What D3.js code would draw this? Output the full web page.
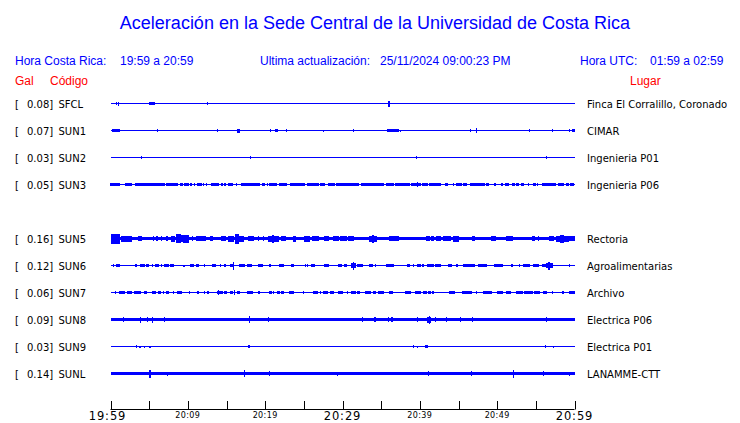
<!DOCTYPE html>
<html><head><meta charset="utf-8">
<script src="https://cdn.jsdelivr.net/npm/d3@7"></script>
<style>body{margin:0;background:#fff}svg{display:block}</style>
</head><body>
<svg id="c" width="740" height="423"></svg>
<script>
// ---------- data ----------
const titleText = "Aceleración en la Sede Central de la Universidad de Costa Rica";
const localRange = "19:59 a 20:59";
const utcRange = "01:59 a 02:59";
const updated = "25/11/2024 09:00:23 PM";

const codes  = ["SFCL","SUN1","SUN2","SUN3","SUN4","SUN5","SUN6","SUN7","SUN8","SUN9","SUNL"];
const gal    = [0.08, 0.07, 0.03, 0.05, null, 0.16, 0.12, 0.06, 0.09, 0.03, 0.14];
const places = ["Finca El Corralillo, Coronado","CIMAR","Ingenieria P01","Ingenieria P06",null,
                "Rectoria","Agroalimentarias","Archivo","Electrica P06","Electrica P01","LANAMME-CTT"];
// background (noise) amplitude per station, relative units
const baseAmp = [0.5, 0.5, 0.5, 0.5, null, 1.7, 0.5, 0.5, 1.9, 0.5, 1.5];

// bursts: [start minute, end minute, amplitude]
const burstsSFCL = [[0.8,0.8,1.5],[1.0,1.0,2],[5.1,5.6,1.5],[12.5,12.5,1.5],[36.0,36.0,3]];
const burstsSUN1 = [[0.2,0.8,1.5],[0.9,1.2,1.5],[6.1,6.1,1.5],[13.8,13.8,1.5],[16.4,16.6,2],[20.7,20.7,1.5],[21.3,21.6,1.5],[22.7,22.7,1.5],[27.5,27.5,1],[31.4,31.4,1.5],[33.6,33.6,0.8],[35.8,36.4,1.5],[36.6,37.2,1.5],[37.5,37.5,1],[39.7,39.7,0.8],[41.7,41.7,0.8],[46.5,46.5,1.5],[47.3,47.3,2.5],[48.1,48.1,0.8],[54.2,54.2,1.5],[57.1,57.1,1.5],[59.3,59.3,1.5],[59.7,60,1.5]];
const burstsSUN2 = [[4.0,4.0,1.5],[18.1,18.1,1.5],[20.5,20.5,0.8],[39.6,39.6,1.5],[56.4,56.4,1.5]];
const burstsSUN3 = [[0,1.1,1.7],[1.9,2.7,1.7],[3.2,4.2,1.7],[4.4,6.2,1.7],[6.4,7.0,1.7],[7.2,7.9,1.7],[8.0,8.7,1.7],[9.0,9.3,1.5],[9.6,10.0,1.5],[10.4,10.4,1.5],[10.9,10.9,1.5],[11.2,11.7,1.7],[12.0,12.0,1.5],[12.4,12.4,1.5],[13.1,13.9,1.7],[14.4,14.4,1.5],[14.8,14.8,1.5],[15.2,15.8,1.7],[16.3,16.3,1.5],[16.9,17.3,1.5],[17.4,19.2,1.7],[19.6,19.9,1.5],[20.3,20.3,1.5],[20.6,21.5,1.7],[21.8,22.7,1.7],[23.3,25.0,1.7],[25.5,26.9,1.7],[27.1,27.7,1.7],[28.2,28.9,1.7],[29.2,32.0,1.7],[32.4,34.0,1.7],[34.2,34.8,1.7],[34.9,35.3,1.5],[35.7,36.6,1.7],[36.8,37.7,1.7],[37.9,38.7,1.7],[38.9,40.0,1.7],[39.7,39.7,2.2],[40.4,41.0,1.7],[41.2,42.6,1.7],[43.3,43.6,1.5],[44.3,44.3,1.5],[44.8,45.3,1.5],[45.6,46.0,1.5],[46.5,46.9,1.7],[47.1,48.3,1.7],[48.6,48.9,1.5],[49.6,49.8,1.5],[50.6,50.6,1.2],[51.1,51.2,1.5],[51.4,51.4,1.2],[52.0,52.2,1.5],[52.5,52.7,1.5],[53.2,53.4,1.5],[54.0,54.0,1.5],[54.7,54.9,1.5],[55.2,55.2,1.5],[55.9,57.5,1.7],[57.9,58.6,1.7],[59.0,59.2,1.5],[59.5,59.9,1.7]];
const burstsSUN5 = [[0.1,1.1,5],[1.4,2.7,3],[3.6,4.0,2.5],[5.5,5.5,2.5],[6.0,6.0,2.2],[6.6,6.6,2.2],[7.3,7.3,2.2],[7.9,8.3,3],[8.5,9.0,4.5],[9.0,9.4,3.5],[9.5,10.1,4],[10.6,10.6,2.5],[11.1,12.2,2.5],[12.9,13.2,2.5],[14.4,14.8,2.5],[15.2,15.9,3],[16.1,16.5,5],[16.7,17.2,3],[17.8,18.5,2.5],[19.1,19.1,2.2],[19.8,19.8,2.2],[20.4,21.7,3],[20.9,21.1,4],[22.1,22.6,2.5],[23.6,23.9,3],[25.1,25.7,3],[26.1,26.9,2.5],[27.7,28.2,2.2],[28.8,29.5,2.2],[29.7,30.5,2.5],[30.8,31.4,2.5],[33.5,34.4,3],[33.9,34.0,4],[36.1,37.2,2.5],[40.8,41.2,2.5],[41.5,41.7,2.5],[42.2,42.7,2.5],[43.1,43.9,2.5],[44.3,45.0,3],[46.8,47.1,2.5],[49.3,49.7,2.5],[51.2,51.9,2.5],[54.6,54.8,2.5],[55.3,55.3,2.2],[56.8,57.3,2.5],[57.7,59.2,3],[58.2,58.6,4],[59.2,60,2.2]];
const burstsSUN6 = [[0.4,0.4,1.5],[0.8,1.1,1.5],[3.2,3.4,1.5],[3.9,4.2,1.5],[4.4,4.4,1.5],[4.7,4.9,1.5],[5.4,5.4,1.5],[5.8,6.2,1.5],[6.6,6.6,1.5],[7.0,7.5,1.5],[7.8,8.1,1.5],[9.5,9.5,1],[10.3,10.7,1.5],[11.1,11.4,1.5],[12.1,12.1,1.5],[13.2,13.5,1.5],[14.2,14.2,1.5],[14.8,14.8,1.5],[15.5,15.7,1.5],[15.9,15.9,4],[16.7,17.3,1.5],[17.7,18.2,1.5],[19.1,19.6,1.5],[20.6,20.6,1.5],[21.9,22.3,1.5],[23.4,23.7,1.5],[25.2,25.2,1.5],[25.5,25.5,1.5],[26.0,26.4,1.5],[27.7,28.1,1.5],[29.5,29.8,1.5],[30.3,30.5,1.5],[31.2,31.6,2.5],[31.4,31.4,4],[31.9,32.6,1.5],[33.5,33.9,1.5],[34.3,34.3,1.5],[35.7,36.4,1.5],[36.6,36.6,1.5],[38.4,38.7,1.5],[39.2,39.2,1.5],[39.7,40.0,1.5],[40.4,40.4,1.5],[41.0,41.7,1.5],[42.0,42.6,1.5],[43.7,44.1,1.5],[44.8,44.8,1.5],[45.6,46.1,1.5],[46.3,47.1,1.5],[47.6,48.6,1.5],[49.7,50.6,1.5],[51.9,51.9,1.5],[52.9,52.9,1.5],[53.4,54.2,1.5],[54.7,55.3,1.5],[55.8,56.2,1.5],[56.4,57.1,2.5],[56.7,56.8,4],[59.3,59.3,1.5]];
const burstsSUN7 = [[0.6,0.6,1.2],[1.1,1.8,1.5],[2.2,2.7,1.5],[3.1,3.3,1.5],[3.4,3.9,1.5],[4.4,4.6,1.5],[5.4,5.8,1.5],[6.2,6.5,1.5],[6.8,6.8,1.2],[7.3,7.5,1.5],[8.1,8.1,1.5],[8.6,9.2,1.5],[10.2,10.2,1.5],[11.3,11.4,1.5],[12.1,12.1,1.5],[12.6,12.6,1.5],[13.8,14.4,1.7],[14.0,14.0,2.5],[14.8,15.0,1.5],[15.5,15.7,1.5],[16.0,16.0,2.5],[16.4,16.7,1.5],[17.7,18.3,1.5],[19.2,19.2,1.5],[20.5,20.8,1.5],[21.1,21.1,1.5],[21.6,21.8,1.5],[22.1,22.3,1.5],[23.2,23.6,1.5],[24.9,24.9,1.5],[26.2,26.8,1.5],[27.1,27.1,1.5],[27.6,28.0,1.5],[28.4,28.8,1.5],[29.5,30.0,1.5],[30.6,30.6,1.2],[31.2,31.6,1.5],[31.9,32.2,1.5],[33.0,33.6,1.5],[34.0,34.3,1.5],[34.6,35.3,1.5],[36.1,36.5,1.5],[38.1,38.8,1.5],[39.5,40.1,1.5],[40.5,40.8,1.5],[41.1,41.3,1.5],[41.7,41.7,1.2],[43.9,44.5,1.5],[45.5,46.7,1.5],[47.3,47.3,1.5],[48.2,49.3,1.5],[50.1,50.6,1.5],[51.2,51.7,1.5],[52.5,53.2,1.5],[53.5,54.6,1.5],[54.8,55.5,1.5],[56.0,56.3,1.5],[57.1,57.1,1.5],[58.5,58.5,1.2],[59.4,60,1.5]];
const burstsSUN8 = [[1.7,1.7,2.5],[3.9,3.9,3],[4.8,4.8,2.5],[5.4,5.4,3],[7.0,7.0,2.5],[18.0,18.0,3.5],[20.4,20.4,2.5],[32.6,32.6,2.5],[34.2,34.2,2.5],[35.9,35.9,2.5],[36.4,36.4,2.2],[39.7,39.7,2.5],[41.0,41.4,3],[41.2,41.2,4],[42.0,42.0,2.5],[43.4,43.4,2.2],[45.2,45.2,2.5],[46.8,46.8,2.5],[56.4,56.4,2.5]];
const burstsSUN9 = [[3.4,3.4,1.5],[3.8,3.8,1],[4.4,4.4,1],[5.1,5.1,1],[17.8,18.0,1.5],[39.2,39.2,1.5],[39.7,39.7,1],[40.7,41.0,1.5],[56.2,56.2,1.5],[57.3,57.3,1]];
const burstsSUNL = [[5.1,5.1,4],[7.4,7.4,2],[17.3,17.3,3.5],[20.5,20.5,2.5],[29.3,29.3,2],[41.1,41.1,2.5],[46.7,46.7,2.5],[52.1,52.1,4],[56.0,56.0,2.5],[59.3,59.3,2]];
const burstLists = [burstsSFCL,burstsSUN1,burstsSUN2,burstsSUN3,null,burstsSUN5,burstsSUN6,burstsSUN7,burstsSUN8,burstsSUN9,burstsSUNL];

const tickMinutes = [0,5,10,15,20,25,30,35,40,45,50,55,60];
const tickLabels  = ["19:59","","20:09","","20:19","","20:29","","20:39","","20:49","","20:59"];
const majorTicks  = ["19:59","20:29","20:59"];

// ---------- drawing ----------
const svg = d3.select("#c");
const BLUE = "#0000ff", RED = "#ff0000";

const x = d3.scaleLinear().domain([0, 60]).range([110.5, 574.5]);
const y = d3.scaleLinear().domain([0, codes.length - 1]).range([103.5, 373.5]);
const amp = d3.scaleLinear().domain([0, 1]).range([0, 1]);

// header
svg.append("text").attr("x", 375).attr("y", 29).attr("text-anchor", "middle")
  .attr("font-family", "Liberation Sans, Arial, sans-serif").attr("font-size", 18)
  .attr("fill", BLUE).text(titleText);

const hdr = (t, xx, yy, col) => svg.append("text").attr("x", xx).attr("y", yy)
  .attr("font-family", "Liberation Sans, Arial, sans-serif").attr("font-size", 12)
  .attr("fill", col).text(t);
hdr("Hora Costa Rica:", 15, 65, BLUE);
hdr(localRange, 120, 65, BLUE);
hdr("Ultima actualización:", 260, 65, BLUE);
hdr(updated, 380, 65, BLUE);
hdr("Hora UTC:", 580, 65, BLUE);
hdr(utcRange, 650, 65, BLUE);
hdr("Gal", 15, 85, RED);
hdr("Código", 50, 85, RED);
hdr("Lugar", 630, 85, RED);

// rows
const rows = svg.append("g");
codes.forEach((code, i) => {
  if (gal[i] == null) return;
  const cy = y(i);
  const g = rows.append("g");
  const lab = (t, xx) => g.append("text").attr("x", xx).attr("y", cy + 4)
    .attr("font-family", "DejaVu Sans, sans-serif").attr("font-size", 10)
    .attr("fill", "#000").text(t);
  lab("[", 15);
  lab(d3.format(".2f")(gal[i]) + "]", 27);
  lab(code, 58.5);
  lab(places[i], 587);

  const b = amp(baseAmp[i]);
  g.append("rect").attr("x", x(0)).attr("width", x(60) - x(0))
    .attr("y", cy - Math.max(b, 0.5)).attr("height", Math.max(2 * b, 1))
    .attr("fill", BLUE).attr("shape-rendering", "crispEdges");
  g.selectAll(".b").data(burstLists[i]).join("rect")
    .attr("x", d => x(d[0]) - 0.5)
    .attr("width", d => Math.max(x(d[1]) - x(d[0]), 0) + 1.2)
    .attr("y", d => cy - amp(d[2]))
    .attr("height", d => 2 * amp(d[2]))
    .attr("fill", BLUE).attr("shape-rendering", "crispEdges");
});

// time axis
const ax = svg.append("g");
ax.append("line").attr("x1", x(0)).attr("x2", x(60)).attr("y1", 409.5).attr("y2", 409.5)
  .attr("stroke", "#000").attr("stroke-width", 1);
tickMinutes.forEach((m, k) => {
  const xx = Math.round(x(m)) + 0.5;
  ax.append("line").attr("x1", xx).attr("x2", xx).attr("y1", 401).attr("y2", 409.5)
    .attr("stroke", "#000").attr("stroke-width", 1);
  const t = tickLabels[k];
  if (!t) return;
  const big = majorTicks.includes(t);
  ax.append("text").attr("x", x(m) - (k === 0 ? 3 : 0)).attr("y", big ? 420 : 418).attr("text-anchor", "middle")
    .attr("font-family", "DejaVu Sans, sans-serif")
    .attr("font-size", big ? 11.5 : 8)
    .attr("letter-spacing", big ? 0.9 : 0.4)
    .attr("fill", "#000").text(t);
});
</script>
</body></html>
